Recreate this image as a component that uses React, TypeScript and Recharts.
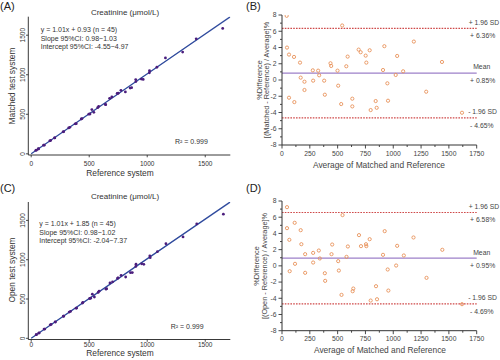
import React from 'react';
import { ComposedChart, Scatter, XAxis, YAxis, Line, Area, ReferenceLine } from 'recharts';

const FONT = '"Liberation Sans", Arial, Helvetica, sans-serif';

// ---------- Panel A: matched test system vs reference ----------
const refA = [40.3, 44.1, 62.0, 106.5, 160.3, 63.7, 112.5, 167.8, 202.2, 203.2, 275.4, 280.1, 323.1, 333.0, 379.2, 388.5, 431.5, 438.2, 496.1, 506.8, 522.9, 539.9, 573.1, 581.5, 639.3, 642.3, 676.1, 694.9, 740.7, 749.9, 773.6, 811.7, 852.9, 865.6, 900.9, 902.4, 948.9, 965.2, 1018.8, 1019.7, 1083.2, 1157.0, 1305.3, 1422.0, 1650.6];
const matchedA = [43.7, 45.9, 64.0, 109.5, 163.7, 62.3, 109.5, 168.2, 201.8, 200.8, 278.6, 279.9, 326.9, 335.0, 378.8, 381.5, 440.5, 445.8, 501.9, 503.2, 559.2, 524.1, 582.9, 598.5, 624.7, 621.7, 701.9, 719.1, 763.3, 766.1, 802.4, 782.3, 831.1, 836.4, 939.1, 913.6, 945.1, 940.8, 1025.2, 1050.3, 1094.8, 1213.0, 1286.7, 1454.0, 1585.4];

// ---------- Panel B: Bland-Altman matched ----------
const avgB = [42, 45, 63, 108, 162, 63, 111, 168, 202, 202, 277, 280, 325, 334, 379, 385, 436, 442, 499, 505, 541, 532, 578, 590, 632, 632, 689, 707, 752, 758, 788, 797, 842, 851, 920, 908, 947, 953, 1022, 1035, 1089, 1185, 1296, 1438, 1618];
const diffB = [7.90, 3.99, 3.13, 2.84, 2.14, -2.18, -2.72, 0.29, -0.21, -1.23, 1.19, -0.08, 1.15, 0.58, -0.08, -1.81, 2.06, 1.73, 1.15, -0.70, 6.71, -2.96, 1.69, 2.88, -2.30, -3.25, 3.74, 3.42, 3.00, 2.14, 3.66, -3.70, -2.59, -3.42, 4.16, 1.23, -0.41, -2.55, 0.62, 2.96, 1.07, 4.73, -1.44, 2.22, -4.03];
const limitsB = { upper: 6.36, mean: 0.85, lower: -4.65 };

// ---------- Panel C: open test system vs reference ----------
const refC = [43.4, 44.0, 64.9, 111.0, 164.3, 171.7, 69.2, 116.9, 206.5, 208.9, 277.8, 279.4, 327.9, 338.5, 386.8, 391.6, 441.8, 445.1, 503.5, 512.5, 527.0, 544.6, 576.8, 584.9, 644.9, 650.0, 678.9, 701.4, 744.9, 748.8, 775.0, 814.1, 855.6, 871.6, 903.3, 901.8, 952.1, 970.6, 1025.8, 1022.2, 1088.0, 1161.3, 1308.6, 1426.7, 1656.3];
const openC = [46.6, 46.0, 67.1, 117.0, 171.7, 176.3, 68.8, 117.1, 209.5, 207.1, 282.2, 280.6, 334.1, 341.5, 383.2, 384.4, 448.2, 456.9, 506.5, 509.5, 561.0, 525.4, 583.2, 599.1, 625.1, 632.0, 705.1, 718.6, 765.1, 767.2, 801.0, 779.9, 834.4, 836.4, 942.8, 914.2, 947.9, 941.4, 1026.2, 1047.8, 1102.0, 1202.7, 1289.4, 1455.3, 1579.7];

// ---------- Panel D: Bland-Altman open ----------
const avgD = [45, 45, 66, 114, 168, 174, 69, 117, 208, 208, 280, 280, 331, 340, 385, 388, 445, 451, 505, 511, 544, 535, 580, 592, 635, 641, 692, 710, 755, 758, 788, 797, 845, 854, 923, 908, 950, 956, 1026, 1035, 1095, 1182, 1299, 1441, 1618];
const diffD = [7.24, 4.65, 3.21, 5.31, 4.40, 2.67, -0.66, 0.25, 1.44, -0.86, 1.60, 0.41, 1.89, 0.91, -0.91, -1.85, 1.44, 2.63, 0.58, -0.58, 6.26, -3.58, 1.11, 2.39, -3.13, -2.80, 3.79, 2.43, 2.67, 2.43, 3.29, -4.28, -2.51, -4.12, 4.28, 1.36, -0.45, -3.05, 0.04, 2.47, 1.28, 3.50, -1.48, 1.98, -4.73];
const limitsD = { upper: 6.58, mean: 0.95, lower: -4.69 };

// regression lines and confidence bands
const fitX = [0, 860, 1716];
const fitA = [0.93, 869.5, 1734.1];
const bandLoA = [-2.5, 866, 1718];
const bandHiA = [4.0, 873, 1748];
const fitC = [1.85, 870.5, 1735.0];
const bandLoC = [-1.5, 867, 1719];
const bandHiC = [5.0, 874, 1749];

// ticks
const xyTicks = [0, 500, 1000, 1500];
const baXTicks = [0, 125, 250, 375, 500, 625, 750, 875, 1000, 1125, 1250, 1375, 1500, 1625, 1750];
const baYTicks = [-8, -7, -6, -5, -4, -3, -2, -1, 0, 1, 2, 3, 4, 5, 6, 7, 8];

const T = ({ x, y, size, anchor = 'start', rotate = false, color = '#333', children }: any) => (
  <div
    style={{
      position: 'absolute', left: x, top: y, fontSize: size, fontFamily: FONT, color,
      lineHeight: 1, whiteSpace: 'nowrap',
      transform: `translate(${anchor === 'middle' ? '-50%' : '0'}, -50%)${rotate ? ' rotate(-90deg)' : ''}`,
    }}
  >
    {children}
  </div>
);

const XYXTick = (props: any) => {
  const { x, y, payload, gap } = props;
  return (
    <g>
      <line x1={x} x2={x} y1={y} y2={y + 2.3} stroke="#222" strokeWidth={0.8} />
      <text x={x} y={y + gap} dy="0.71em" textAnchor="middle" fontSize={6.5} fill="#333" fontFamily={FONT}>{payload.value}</text>
    </g>
  );
};
const XYYTick = (props: any) => {
  const { x, y, payload } = props;
  const tx = x - 3.4;
  return (
    <g>
      <line x1={x} x2={x - 2.3} y1={y} y2={y} stroke="#222" strokeWidth={0.8} />
      <text x={tx} y={y} transform={`rotate(-90 ${tx} ${y})`} textAnchor="middle" fontSize={6.5} fill="#333" fontFamily={FONT}>{payload.value}</text>
    </g>
  );
};

const BAXTick = (props: any) => {
  const { x, y, payload, gap } = props;
  const major = payload.value % 250 === 0;
  return (
    <g>
      <line x1={x} x2={x} y1={y} y2={y + (major ? 3.5 : 2)} stroke="#333" strokeWidth={0.9} />
      {major && (
        <text x={x} y={y + gap} dy="0.71em" textAnchor="middle" fontSize={6.8} fill="#444" fontFamily={FONT}>{payload.value}</text>
      )}
    </g>
  );
};
const BAYTick = (props: any) => {
  const { x, y, payload } = props;
  const major = payload.value % 2 === 0;
  return (
    <g>
      <line x1={x} x2={x - (major ? 3.5 : 2)} y1={y} y2={y} stroke="#333" strokeWidth={0.9} />
      {major && (
        <text x={x - 5.5} y={y} dy="0.35em" textAnchor="end" fontSize={6.8} fill="#444" fontFamily={FONT}>{payload.value}</text>
      )}
    </g>
  );
};

const refLabel = (top: string, bottom: string, topOffset: number) => (props: any) => {
  const vb = props.viewBox || {};
  const xEnd = (vb.x || 0) + (vb.width || 0);
  const y = vb.y || 0;
  return (
    <g fontFamily={FONT} fontSize={6.8} fill="#444">
      <text x={xEnd - topOffset} y={y - 6} dy="0.35em">{top}</text>
      <text x={xEnd - 6.6} y={y + 7.5} dy="0.35em">{bottom}</text>
    </g>
  );
};

function XYPanel({ top, plotTop, plotBottom, xs, ys, fit, lo, hi, gap }: any) {
  const pts = xs.map((v: number, i: number) => ({ x: v, y: ys[i] }));
  const lineData = fitX.map((v, i) => ({ x: v, fit: fit[i], band: [lo[i], hi[i]] }));
  const dx: [number, number] = [-25, 1716];
  const dy: [number, number] = [-15, 1734];
  return (
    <div style={{ position: 'absolute', left: 0, top, width: 250, height: 180 }}>
      <ComposedChart width={250} height={180} data={lineData} margin={{ top: plotTop, right: 19.7, bottom: 0, left: 0 }}>
        <XAxis dataKey="x" type="number" domain={dx} allowDataOverflow ticks={xyTicks} interval={0}
          height={180 - plotBottom} tickSize={0} tickMargin={0} tickLine={false}
          axisLine={{ stroke: '#222', strokeWidth: 0.9 }} tick={<XYXTick gap={gap} />} />
        <YAxis dataKey="y" type="number" domain={dy} allowDataOverflow ticks={xyTicks} interval={0}
          width={28.3} tickSize={0} tickMargin={0} tickLine={false}
          axisLine={{ stroke: '#222', strokeWidth: 0.9 }} tick={<XYYTick />} />
        <XAxis xAxisId="top" orientation="top" type="number" domain={dx} allowDataOverflow height={0}
          tick={false} tickLine={false} axisLine={{ stroke: '#222', strokeWidth: 0.9 }} />
        <YAxis yAxisId="right" orientation="right" type="number" domain={dy} allowDataOverflow width={0}
          tick={false} tickLine={false} axisLine={{ stroke: '#222', strokeWidth: 0.9 }} />
        <Area dataKey="band" type="linear" stroke="none" fill="#c3cde9" fillOpacity={0.6} isAnimationActive={false} />
        <Line dataKey="fit" type="linear" stroke="#2f4a9c" strokeWidth={1.3} dot={false} isAnimationActive={false} />
        <Scatter data={pts} isAnimationActive={false}
          shape={(p: any) => <circle cx={p.cx} cy={p.cy} r={1.4} fill="#4b1d7c" />} />
      </ComposedChart>
    </div>
  );
}

function BAPanel({ top, plotTop, plotBottom, xs, ys, lim, gap }: any) {
  const pts = xs.map((v: number, i: number) => ({ x: v, y: ys[i] }));
  const fmt = (v: number) => (v >= 0 ? '+ ' : '- ') + Math.abs(v).toFixed(2) + '%';
  return (
    <div style={{ position: 'absolute', left: 250, top, width: 250, height: 180 }}>
      <ComposedChart width={250} height={180} margin={{ top: plotTop, right: 23.3, bottom: 0, left: 0 }}>
        <XAxis dataKey="x" type="number" domain={[0, 1750]} allowDataOverflow ticks={baXTicks} interval={0}
          height={180 - plotBottom} tickSize={0} tickMargin={0} tickLine={false}
          axisLine={{ stroke: '#333', strokeWidth: 1 }} tick={<BAXTick gap={gap} />} />
        <YAxis dataKey="y" type="number" domain={[-8, 8]} allowDataOverflow ticks={baYTicks} interval={0}
          width={32} tickSize={0} tickMargin={0} tickLine={false}
          axisLine={{ stroke: '#333', strokeWidth: 1 }} tick={<BAYTick />} />
        <ReferenceLine y={lim.upper} stroke="#cf4a4a" strokeWidth={1.2} strokeDasharray="1.6 1.2"
          label={refLabel('+ 1.96 SD', fmt(lim.upper), 8)} />
        <ReferenceLine y={lim.mean} stroke="#9d80c9" strokeWidth={1.3}
          label={refLabel('Mean', fmt(lim.mean), 3.5)} />
        <ReferenceLine y={lim.lower} stroke="#cf4a4a" strokeWidth={1.2} strokeDasharray="1.6 1.2"
          label={refLabel('- 1.96 SD', fmt(lim.lower), 8.5)} />
        <Scatter data={pts} isAnimationActive={false}
          shape={(p: any) => <circle cx={p.cx} cy={p.cy} r={1.6} fill="none" stroke="#e8925a" strokeWidth={0.9} />} />
      </ComposedChart>
    </div>
  );
}

export default function App() {
  return (
    <div style={{ position: 'fixed', left: 0, top: 0, width: 500, height: 360, background: '#fff', overflow: 'hidden' }}>
      <XYPanel top={0} plotTop={16.7} plotBottom={155} xs={refA} ys={matchedA} fit={fitA} lo={bandLoA} hi={bandHiA} gap={6.7} />
      <XYPanel top={180} plotTop={22} plotBottom={159.5} xs={refC} ys={openC} fit={fitC} lo={bandLoC} hi={bandHiC} gap={3} />
      <BAPanel top={0} plotTop={15} plotBottom={145} xs={avgB} ys={diffB} lim={limitsB} gap={6} />
      <BAPanel top={180} plotTop={21} plotBottom={150.7} xs={avgD} ys={diffD} lim={limitsD} gap={5} />

      {/* Panel A texts */}
      <T x={0} y={6} size={11} color="#222">(A)</T>
      <T x={125} y={12.5} size={8} anchor="middle">Creatinine (μmol/L)</T>
      <T x={40.7} y={29.3} size={7}>y = 1.01x + 0.93 (n = 45)</T>
      <T x={40.7} y={37.6} size={7}>Slope 95%CI: 0.98~1.03</T>
      <T x={40.7} y={45.8} size={7}>Intercept 95%CI: -4.55~4.97</T>
      <T x={175} y={140.7} size={7}>R² = 0.999</T>
      <T x={11.7} y={85.5} size={8.4} anchor="middle" rotate>Matched test system</T>
      <T x={120} y={172.7} size={8.4} anchor="middle">Reference system</T>

      {/* Panel C texts */}
      <T x={0} y={188} size={11} color="#222">(C)</T>
      <T x={125} y={196.7} size={8} anchor="middle">Creatinine (μmol/L)</T>
      <T x={39.3} y={223.3} size={7}>y = 1.01x + 1.85 (n = 45)</T>
      <T x={39.3} y={231.6} size={7}>Slope 95%CI: 0.98~1.02</T>
      <T x={39.3} y={239.9} size={7}>Intercept 95%CI: -2.04~7.37</T>
      <T x={170.7} y={325.7} size={7}>R² = 0.999</T>
      <T x={12} y={270} size={8.4} anchor="middle" rotate>Open test system</T>
      <T x={120} y={353.3} size={8.4} anchor="middle">Reference system</T>

      {/* Panel B texts */}
      <T x={246} y={6} size={11} color="#222">(B)</T>
      <T x={259.5} y={80} size={7.3} anchor="middle" rotate color="#444">%Difference</T>
      <T x={267} y={80} size={7.3} anchor="middle" rotate color="#444">[(Matched - Reference) / Average]%</T>
      <T x={379} y={165} size={8.4} anchor="middle" color="#444">Average of Matched and Reference</T>

      {/* Panel D texts */}
      <T x={246} y={188} size={11} color="#222">(D)</T>
      <T x={257} y={266} size={7.3} anchor="middle" rotate color="#444">%Difference</T>
      <T x={264.5} y={266} size={7.3} anchor="middle" rotate color="#444">[(Open - Reference) / Average]%</T>
      <T x={380} y={350} size={8.4} anchor="middle" color="#444">Average of Matched and Reference</T>
    </div>
  );
}
